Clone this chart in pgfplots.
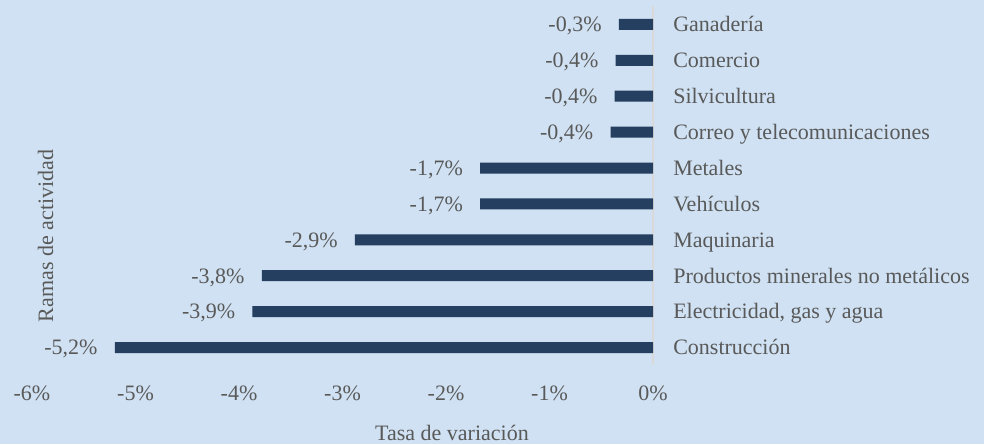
\documentclass[border=0pt]{standalone}
\usepackage{pgfplots}
\pgfplotsset{compat=1.18}
\usepackage{fontspec}
\setmainfont{Liberation Serif}
\definecolor{bg}{RGB}{207,225,242}
\definecolor{barc}{RGB}{36,63,96}
\definecolor{txt}{RGB}{89,89,89}
\definecolor{axc}{RGB}{217,217,217}
\begin{document}
\fontsize{16.5}{19}\selectfont
\begin{tikzpicture}
\fill[bg] (0,0) rectangle (738pt,333pt);
\begin{axis}[
  at={(24pt,58.9pt)}, anchor=south west,
  scale only axis, width=465.75pt, height=269.25pt,
  xmin=-6, xmax=0, ymin=-0.5, ymax=9.5,
  xbar, bar width=8.25pt,
  xtick={-6,-5,-4,-3,-2,-1,0},
  xticklabel={\pgfmathprintnumber{\tick}\%},
  /pgf/number format/assume math mode=true,
  ytick={0,...,9},
  yticklabels={Construcción,{Electricidad, gas y agua},Productos minerales no metálicos,Maquinaria,Vehículos,Metales,Correo y telecomunicaciones,Silvicultura,Comercio,Ganadería},
  major tick length=0pt,
  separate axis lines,
  axis x line*=bottom, x axis line style={draw=none},
  axis y line*=right, y axis line style={draw=axc, line width=0.8pt},
  xticklabel style={anchor=base, inner sep=0pt, yshift=-26.25pt, text=txt, font=\fontsize{16.5}{19}\selectfont},
  yticklabel style={anchor=base west, inner sep=0pt, xshift=15pt, yshift=-5.5pt, text=txt, font=\fontsize{16.5}{19}\selectfont},
  nodes near coords={\pgfmathprintnumber[fixed,fixed zerofill,precision=1,use comma]{\pgfplotspointmeta}\%},
  every node near coord/.append style={anchor=base east, inner sep=0pt, xshift=-12.75pt, yshift=-5.5pt, text=txt, font=\fontsize{16.5}{19}\selectfont},
  clip=false,
]
\addplot[fill=barc, draw=none] coordinates {
  (-5.20,0) (-3.87,1) (-3.78,2) (-2.88,3) (-1.67,4) (-1.67,5) (-0.41,6) (-0.37,7) (-0.36,8) (-0.33,9)
};
\end{axis}
\node[rotate=90, anchor=base, inner sep=0pt, text=txt] at (39.75pt,156pt) {Ramas de actividad};
\node[anchor=base, inner sep=0pt, text=txt] at (339pt,3pt) {Tasa de variación};
\pgfresetboundingbox
\path (0,0) rectangle (738pt,333pt);
\end{tikzpicture}
\end{document}
